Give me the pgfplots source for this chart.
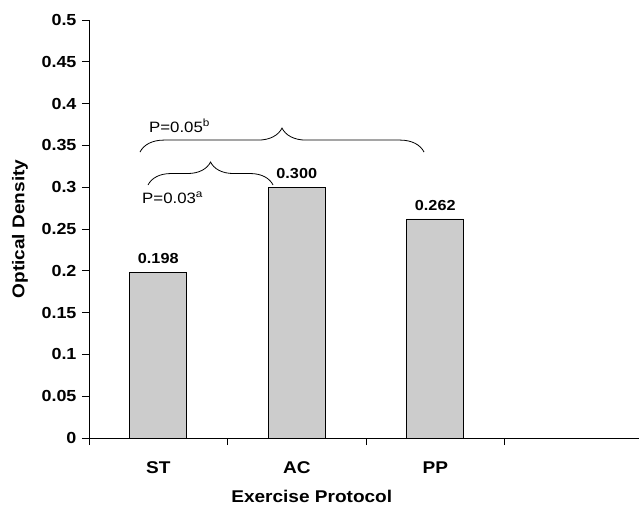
\documentclass[border=0pt]{standalone}
\usepackage{pgfplots}
\pgfplotsset{compat=1.18}
\usepackage{fontspec}
\setmainfont{Liberation Sans}[FakeStretch=1.12]
\usetikzlibrary{decorations.pathreplacing}
\begin{document}
\fontsize{16bp}{19bp}\selectfont
\begin{tikzpicture}
\path[use as bounding box] (-89bp,-77bp) rectangle (550bp,438bp);
\begin{axis}[
  at={(0,0)}, anchor=south west,
  scale only axis, width=550bp, height=418bp,
  axis lines*=left,
  axis line style={line width=0.8bp, black},
  xmin=-0.5, xmax=3.471,
  ymin=0, ymax=0.5,
  ybar, bar width=0.41,
  xtick={-0.5,0.5,1.5,2.5},
  x tick label as interval,
  xticklabels={ST,AC,PP},
  x tick label style={font=\fontsize{17bp}{20bp}\selectfont\bfseries, yshift=-11bp},
  ytick={0,0.05,0.1,0.15,0.2,0.25,0.3,0.35,0.4,0.45,0.5},
  yticklabels={0,0.05,0.1,0.15,0.2,0.25,0.3,0.35,0.4,0.45,0.5},
  y tick label style={font=\fontsize{16bp}{19bp}\selectfont\bfseries},
  major tick style={line width=0.8bp, black},
  major tick length=7bp, tick align=outside,
  ylabel={Optical Density},
  ylabel style={font=\fontsize{17bp}{20bp}\selectfont\bfseries, at={(axis description cs:-0.1255,0.5)}, anchor=center},
  xlabel={Exercise Protocol},
  xlabel style={font=\fontsize{17bp}{20bp}\selectfont\bfseries, at={(axis description cs:0.405,-0.139)}, anchor=center},
  /pgf/number format/assume math mode=true,
  nodes near coords,
  nodes near coords style={font=\fontsize{14.5bp}{17bp}\selectfont\bfseries, yshift=3bp, /pgf/number format/.cd, fixed, fixed zerofill, precision=3},
  clip=false,
]
\addplot[fill={rgb,255:red,204;green,204;blue,204}, draw=black, line width=0.8bp] coordinates {(0,0.198) (1,0.300) (2,0.262)};
\draw[decorate, decoration={brace, amplitude=24bp}, line width=0.8bp] (axis cs:-0.132,0.342) -- (axis cs:1.919,0.342);
\draw[decorate, decoration={brace, amplitude=23bp}, line width=0.8bp] (axis cs:-0.074,0.3026) -- (axis cs:0.829,0.3026);
\node[anchor=base west, inner sep=0pt, font=\fontsize{15bp}{18bp}\selectfont] at (axis cs:-0.067,0.366) {P=0.05\textsuperscript{b}};
\node[anchor=base west, inner sep=0pt, font=\fontsize{15bp}{18bp}\selectfont] at (axis cs:-0.117,0.281) {P=0.03\textsuperscript{a}};
\end{axis}
\end{tikzpicture}
\end{document}
